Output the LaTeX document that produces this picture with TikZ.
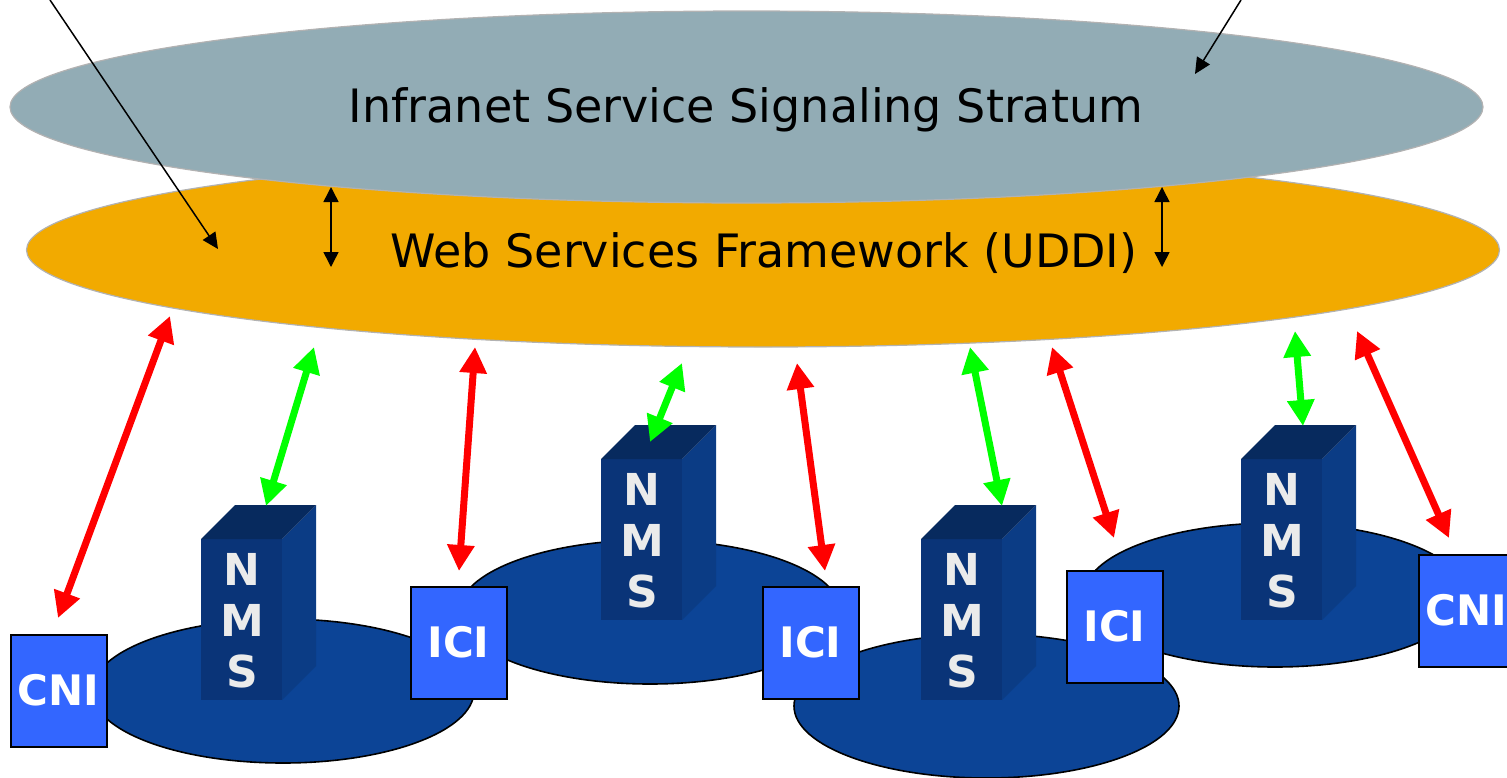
\documentclass[tikz,border=0pt]{standalone}
\usepackage{fontspec}
\setmainfont{DejaVu Sans}
\usetikzlibrary{arrows.meta,shapes.geometric}
\definecolor{stratumgrey}{HTML}{92ACB5}
\definecolor{uddiorange}{HTML}{F2AA00}
\definecolor{domainblue}{HTML}{0C4496}
\definecolor{ifaceblue}{HTML}{3366FF}
\definecolor{nmsfront}{HTML}{0A3478}
\definecolor{nmsside}{HTML}{0B3C85}
\definecolor{nmstop}{HTML}{072A5E}
\tikzset{
  layer/.style={ellipse, draw=black!30, line width=1.2pt, inner sep=0pt, minimum width=1473pt, font=\fontsize{46}{54}\selectfont},
  domainnet/.style={ellipse, draw=black, fill=domainblue, line width=1.6pt, inner sep=0pt, minimum height=144pt},
  iface/.style={rectangle, draw=black, fill=ifaceblue, line width=2pt, inner sep=0pt, minimum width=96pt, minimum height=112pt, text=white, font=\fontsize{42}{50}\selectfont\bfseries},
  nmstext/.style={inner sep=0pt, align=center, text=black!8, font=\fontsize{44}{51}\selectfont\bfseries},
  sigred/.style={{Triangle[length=26pt,width=26pt]}-{Triangle[length=26pt,width=26pt]}, red, line width=7pt},
  siggreen/.style={{Triangle[length=26pt,width=26pt]}-{Triangle[length=26pt,width=26pt]}, green, line width=7pt},
  thinarrow/.style={-{Triangle[length=16pt,width=15pt]}, black, line width=1.5pt},
  thindouble/.style={{Triangle[length=15pt,width=15pt]}-{Triangle[length=15pt,width=15pt]}, black, line width=1.5pt}
}
\begin{document}
\begin{tikzpicture}[x=1pt,y=-1pt]
\useasboundingbox (0,0) rectangle (1507,777);
\node[layer, fill=uddiorange, minimum height=194pt] (uddi) at (763,250) {};
\node[layer, fill=stratumgrey, minimum height=192pt] (stratum) at (746.5,107) {};
\node[inner sep=0pt, font=\fontsize{46}{54}\selectfont] (stratumlabel) at (746,110) {Infranet Service Signaling Stratum};
\node[inner sep=0pt, font=\fontsize{46}{54}\selectfont] (uddilabel) at (764,253) {Web Services Framework (UDDI)};

\node[domainnet, minimum width=382pt] (domainB) at (650,612) {};
\node[domainnet, minimum width=382pt] (domainD) at (1275,595) {};
\node[domainnet, minimum width=382pt] (domainA) at (283,691) {};
\node[domainnet, minimum width=385pt] (domainC) at (986.5,706) {};

\foreach \x/\y/\name in {201/539/nmsA, 601/459/nmsB, 921/539/nmsC, 1241/459/nmsD} {
  \fill[nmsfront] (\x, \y) rectangle (\x + 81, \y + 161);
  \fill[nmsside] (\x + 81, \y) -- (\x + 115, \y - 34) -- (\x + 115, \y + 127) -- (\x + 81, \y + 161) -- cycle;
  \fill[nmstop] (\x, \y) -- (\x + 34, \y - 34) -- (\x + 115, \y - 34) -- (\x + 81, \y) -- cycle;
  \node[nmstext] (\name) at (\x + 41, \y + 82) {N\\M\\S};
}

\node[iface] (cniA) at (58.5,690.5) {CNI};
\node[iface] (iciA) at (458.5,642.5) {ICI};
\node[iface] (iciB) at (810.5,642.5) {ICI};
\node[iface] (iciC) at (1114.5,626.5) {ICI};
\node[iface] (cniB) at (1466.5,610.5) {CNI};

% signalling end points
\coordinate (r1a) at (170,316); \coordinate (r1b) at (58,618);
\coordinate (r2a) at (475,347); \coordinate (r2b) at (459,571);
\coordinate (r3a) at (797,363); \coordinate (r3b) at (825,571);
\coordinate (r4a) at (1052,347); \coordinate (r4b) at (1114,538);
\coordinate (r5a) at (1357,331); \coordinate (r5b) at (1449,538);
\coordinate (g1a) at (314,347); \coordinate (g1b) at (266,506);
\coordinate (g2a) at (682,363); \coordinate (g2b) at (650,442);
\coordinate (g3a) at (970,347); \coordinate (g3b) at (1002,506);
\coordinate (g4a) at (1295,331); \coordinate (g4b) at (1303,426);
\foreach \i in {1,...,5} \draw[sigred] (r\i a) -- (r\i b);
\foreach \i in {1,...,4} \draw[siggreen] (g\i a) -- (g\i b);

\coordinate (t1a) at (50,0); \coordinate (t1b) at (218,249);
\coordinate (t2a) at (1241,0); \coordinate (t2b) at (1195,74);
\draw[thinarrow] (t1a) -- (t1b);
\draw[thinarrow] (t2a) -- (t2b);
\coordinate (d1a) at (331,187); \coordinate (d1b) at (331,267);
\coordinate (d2a) at (1162,187); \coordinate (d2b) at (1162,267);
\draw[thindouble] (d1a) -- (d1b);
\draw[thindouble] (d2a) -- (d2b);
\end{tikzpicture}
\end{document}
